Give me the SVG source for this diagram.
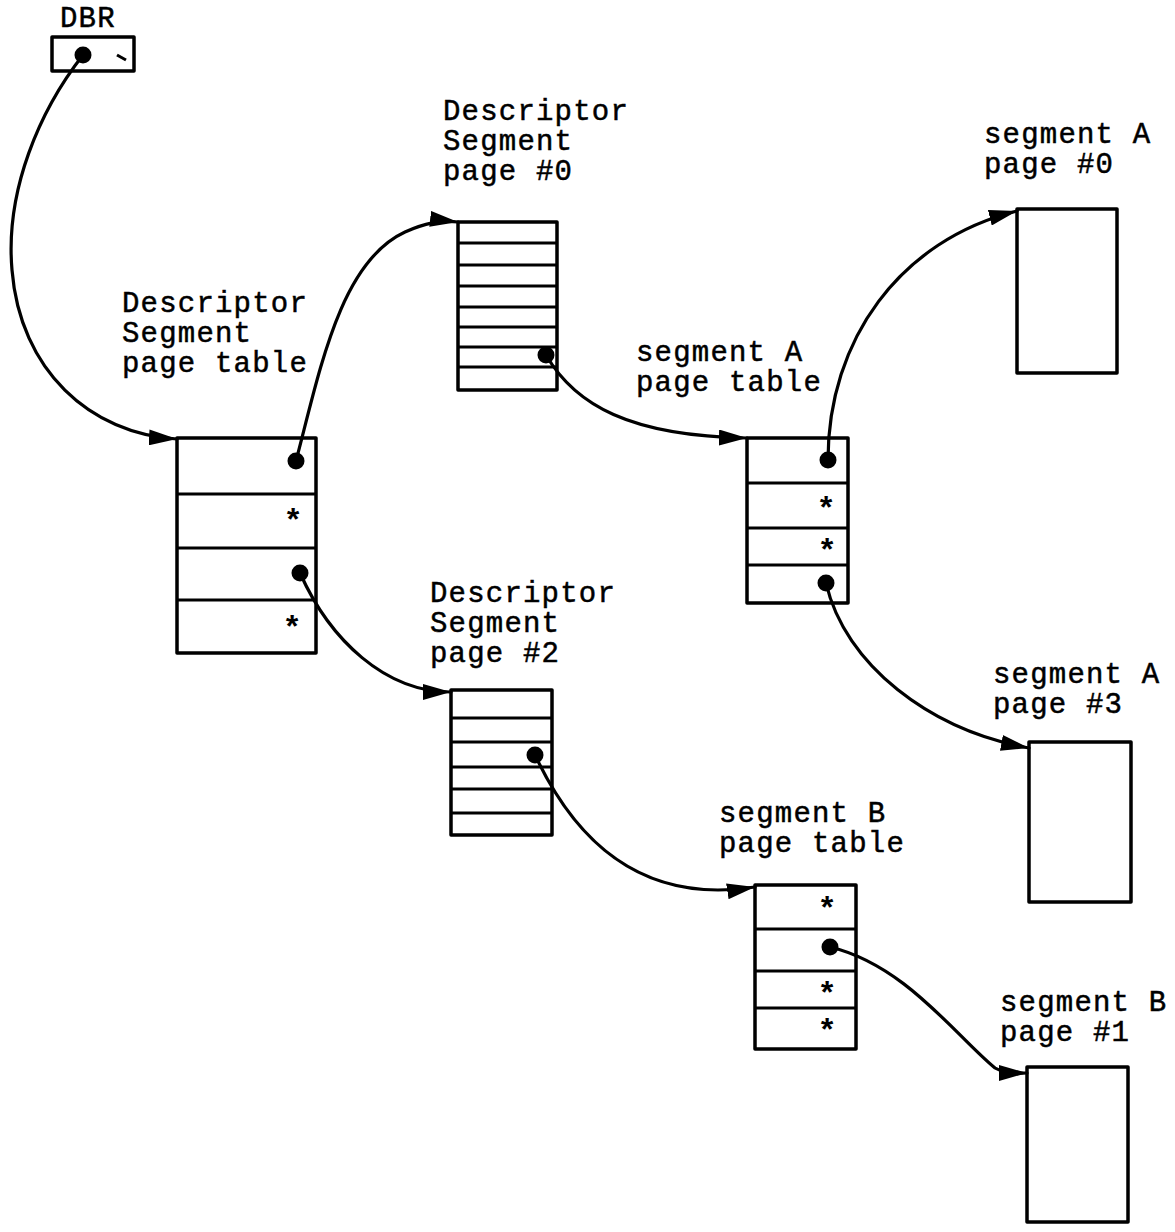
<svg xmlns="http://www.w3.org/2000/svg" width="1175" height="1232" viewBox="0 0 1175 1232">
<style>
.box{fill:#fff;stroke:#000;stroke-width:3.5;stroke-linejoin:round}
.div{stroke:#000;stroke-width:3}
.dot{fill:#000}
.lbl{font-family:"Liberation Mono","DejaVu Sans Mono",monospace;font-size:29px;letter-spacing:1.2px;fill:#000;stroke:#000;stroke-width:0.5}
.ast{font-family:"Liberation Mono","DejaVu Sans Mono",monospace;font-size:32px;font-weight:bold;fill:#000;text-anchor:middle}
.conn{fill:none;stroke:#000;stroke-width:3.2;stroke-linecap:round}
</style>
<defs>
<marker id="ah" markerUnits="userSpaceOnUse" markerWidth="30" markerHeight="16" refX="28" refY="8" orient="auto">
<path d="M0,0 L28,8 L0,16 z" fill="#000"/>
</marker>
</defs>
<rect width="1175" height="1232" fill="#fff"/>

<g id="dbr">
<text class="lbl" x="60" y="27">DBR</text>
<rect class="box" x="52" y="37" width="82" height="34"/>
<circle class="dot" cx="83" cy="55" r="8.5"/>
<line class="div" x1="117" y1="55" x2="126" y2="60"/>
</g>

<g id="ds-page-table">
<text class="lbl" x="122" y="312">Descriptor</text>
<text class="lbl" x="122" y="342">Segment</text>
<text class="lbl" x="122" y="372">page table</text>
<rect class="box" x="177" y="438" width="139" height="215"/>
<line class="div" x1="177" y1="494" x2="316" y2="494"/>
<line class="div" x1="177" y1="548" x2="316" y2="548"/>
<line class="div" x1="177" y1="600" x2="316" y2="600"/>
<circle class="dot" cx="296" cy="461" r="8.5"/>
<text class="ast" x="293" y="531">*</text>
<circle class="dot" cx="300" cy="573" r="8.5"/>
<text class="ast" x="292" y="638">*</text>
</g>

<g id="ds-page-0">
<text class="lbl" x="443" y="120">Descriptor</text>
<text class="lbl" x="443" y="150">Segment</text>
<text class="lbl" x="443" y="180">page #0</text>
<rect class="box" x="458" y="222" width="99" height="168"/>
<line class="div" x1="458" y1="243" x2="557" y2="243"/>
<line class="div" x1="458" y1="265" x2="557" y2="265"/>
<line class="div" x1="458" y1="286" x2="557" y2="286"/>
<line class="div" x1="458" y1="307" x2="557" y2="307"/>
<line class="div" x1="458" y1="327" x2="557" y2="327"/>
<line class="div" x1="458" y1="347" x2="557" y2="347"/>
<line class="div" x1="458" y1="367" x2="557" y2="367"/>
<circle class="dot" cx="546" cy="355" r="8.5"/>
</g>

<g id="ds-page-2">
<text class="lbl" x="430" y="602">Descriptor</text>
<text class="lbl" x="430" y="632">Segment</text>
<text class="lbl" x="430" y="662">page #2</text>
<rect class="box" x="451" y="690" width="101" height="145"/>
<line class="div" x1="451" y1="718" x2="552" y2="718"/>
<line class="div" x1="451" y1="742" x2="552" y2="742"/>
<line class="div" x1="451" y1="767" x2="552" y2="767"/>
<line class="div" x1="451" y1="789" x2="552" y2="789"/>
<line class="div" x1="451" y1="813" x2="552" y2="813"/>
<circle class="dot" cx="535" cy="755" r="8.5"/>
</g>

<g id="seg-a-page-table">
<text class="lbl" x="636" y="361">segment A</text>
<text class="lbl" x="636" y="391">page table</text>
<rect class="box" x="747" y="438" width="101" height="165"/>
<line class="div" x1="747" y1="483" x2="848" y2="483"/>
<line class="div" x1="747" y1="528" x2="848" y2="528"/>
<line class="div" x1="747" y1="565" x2="848" y2="565"/>
<circle class="dot" cx="828" cy="460" r="8.5"/>
<text class="ast" x="826" y="519">*</text>
<text class="ast" x="827" y="561">*</text>
<circle class="dot" cx="826" cy="583" r="8.5"/>
</g>

<g id="seg-b-page-table">
<text class="lbl" x="719" y="822">segment B</text>
<text class="lbl" x="719" y="852">page table</text>
<rect class="box" x="755" y="885" width="101" height="164"/>
<line class="div" x1="755" y1="929" x2="856" y2="929"/>
<line class="div" x1="755" y1="971" x2="856" y2="971"/>
<line class="div" x1="755" y1="1008" x2="856" y2="1008"/>
<text class="ast" x="827" y="919">*</text>
<circle class="dot" cx="830" cy="947" r="8.5"/>
<text class="ast" x="827" y="1004">*</text>
<text class="ast" x="827" y="1041">*</text>
</g>

<g id="seg-a-page-0">
<text class="lbl" x="984" y="143">segment A</text>
<text class="lbl" x="984" y="173">page #0</text>
<rect class="box" x="1017" y="209" width="100" height="164"/>
</g>

<g id="seg-a-page-3">
<text class="lbl" x="993" y="683">segment A</text>
<text class="lbl" x="993" y="713">page #3</text>
<rect class="box" x="1029" y="742" width="102" height="160"/>
</g>

<g id="seg-b-page-1">
<text class="lbl" x="1000" y="1011">segment B</text>
<text class="lbl" x="1000" y="1041">page #1</text>
<rect class="box" x="1027" y="1067" width="101" height="155"/>
</g>

<g id="connectors">
<path class="conn" marker-end="url(#ah)" d="M83,55 C40,110 5,190 12,270 C20,370 90,434 177,439"/>
<path class="conn" marker-end="url(#ah)" d="M296,461 C320,370 340,262 405,232 C425,223 440,220 458,222"/>
<path class="conn" marker-end="url(#ah)" d="M546,355 C575,405 630,436 747,438"/>
<path class="conn" marker-end="url(#ah)" d="M300,573 C330,640 385,692 451,692"/>
<path class="conn" marker-end="url(#ah)" d="M535,755 C575,840 640,905 755,887"/>
<path class="conn" marker-end="url(#ah)" d="M828,460 C828,340 900,240 1017,211"/>
<path class="conn" marker-end="url(#ah)" d="M826,583 C845,665 930,730 1029,748"/>
<path class="conn" marker-end="url(#ah)" d="M830,947 C905,965 955,1035 995,1068 C1005,1074 1015,1073 1027,1073"/>
</g>
</svg>
